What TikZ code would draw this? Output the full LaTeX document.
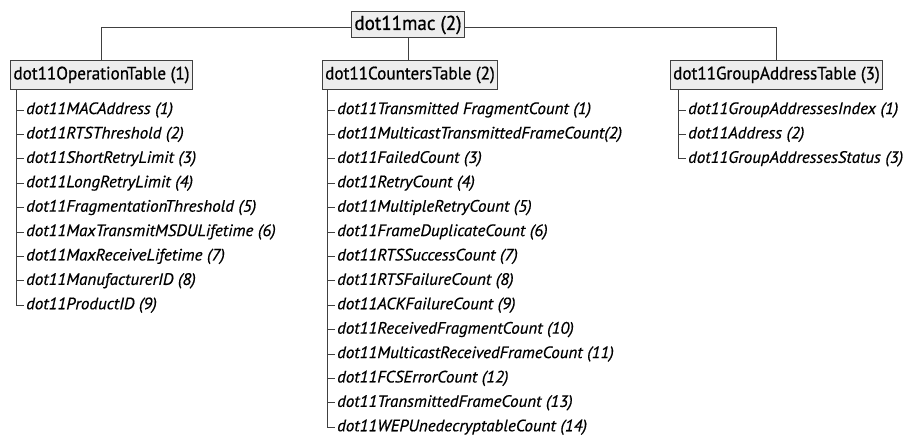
\documentclass[tikz,border=0pt]{standalone}
\usepackage{fontspec}
\setmainfont{PT Sans}
\newfontfamily\boxfont[FakeStretch=0.95,FakeBold=0.8]{PT Sans}
\newfontfamily\itemfont[FakeStretch=1.03,FakeBold=0.5]{PT Sans}
\usetikzlibrary{calc}

\begin{document}
\begin{tikzpicture}[x=1pt,y=-1pt,
  tbl/.style={draw=black!75,fill=black!7,line width=1pt,inner xsep=3pt,minimum height=28pt,
    font=\boxfont\fontsize{18}{20}\selectfont},
  obj/.style={anchor=west,inner xsep=2pt,inner ysep=1pt,font=\itemfont\fontsize{16.5}{18}\selectfont\itshape},
  link/.style={draw=black!75,line width=0.9pt}]
\useasboundingbox (0,0) rectangle (907,436);
% tree top
\node[tbl,minimum height=26pt,font=\boxfont\fontsize{20}{22}\selectfont] (root) at (408,25) {dot11mac (2)};
\node[tbl] (optab) at (101.5,75) {dot11OperationTable (1)};
\node[tbl] (cntab) at (410,75) {dot11CountersTable (2)};
\node[tbl] (gatab) at (776.5,75) {dot11GroupAddressTable (3)};
\draw[link] (root.mid west) -| (optab.north);
\draw[link] (root.mid east) -| (gatab.north);
\draw[link] (root.south) -- (root.south |- cntab.north);
% trunks
\coordinate (opT) at (16,89);
\coordinate (cnT) at (327,89);
\coordinate (gaT) at (678,89);
% dot11OperationTable
\foreach \t [count=\i] in {dot11MACAddress (1),dot11RTSThreshold (2),dot11ShortRetryLimit (3),
  dot11LongRetryLimit (4),dot11FragmentationThreshold (5),dot11MaxTransmitMSDULifetime (6),
  dot11MaxReceiveLifetime (7),dot11ManufacturerID (8),dot11ProductID (9)}
  \node[obj] (op\i) at ($(opT)+(8,21+24.4*\i-24.4)$) {\t};
\draw[link] (opT) |- (op9.west);
\foreach \i in {1,...,8} \draw[link] (opT |- op\i.west) -- (op\i.west);
% dot11CountersTable
\foreach \t [count=\i] in {dot11Transmitted FragmentCount (1),dot11MulticastTransmittedFrameCount(2),
  dot11FailedCount (3),dot11RetryCount (4),dot11MultipleRetryCount (5),dot11FrameDuplicateCount (6),
  dot11RTSSuccessCount (7),dot11RTSFailureCount (8),dot11ACKFailureCount (9),
  dot11ReceivedFragmentCount (10),dot11MulticastReceivedFrameCount (11),dot11FCSErrorCount (12),
  dot11TransmittedFrameCount (13),dot11WEPUnedecryptableCount (14)}
  \node[obj] (cn\i) at ($(cnT)+(8,21+24.4*\i-24.4)$) {\t};
\draw[link] (cnT) |- (cn14.west);
\foreach \i in {1,...,13} \draw[link] (cnT |- cn\i.west) -- (cn\i.west);
% dot11GroupAddressTable
\foreach \t [count=\i] in {dot11GroupAddressesIndex (1),dot11Address (2),dot11GroupAddressesStatus (3)}
  \node[obj] (ga\i) at ($(gaT)+(8,21+24.4*\i-24.4)$) {\t};
\draw[link] (gaT) |- (ga3.west);
\foreach \i in {1,2} \draw[link] (gaT |- ga\i.west) -- (ga\i.west);
\end{tikzpicture}
\end{document}
